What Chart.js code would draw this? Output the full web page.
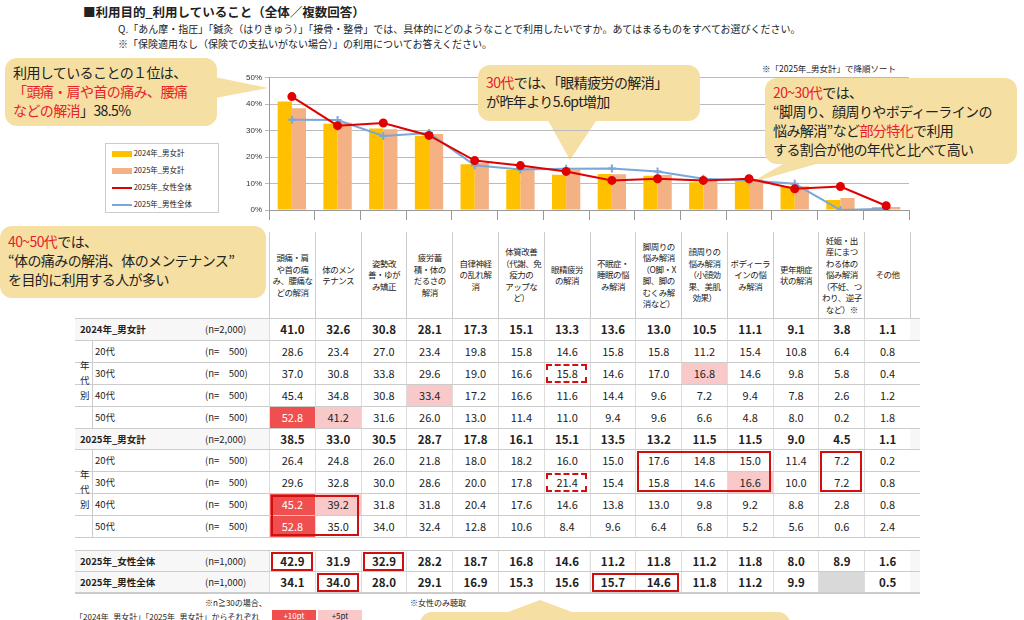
<!DOCTYPE html>
<html><head><meta charset="utf-8">
<script src="https://cdn.jsdelivr.net/npm/chart.js@4.4.1/dist/chart.umd.min.js"></script>
<style>
body{margin:0;width:1024px;height:620px;overflow:hidden;background:#fff;font-family:"Noto Sans CJK JP","Noto Sans",sans-serif;color:#222;position:relative}
.a{position:absolute;white-space:nowrap}
.r{color:#e8202a}
.call{position:absolute;background:#f5dfa3;border-radius:12px;font-size:14px;line-height:19px;padding:6px 8px;box-sizing:border-box;white-space:nowrap;letter-spacing:-0.6px}
.cell{position:absolute;text-align:center;font-size:11px;box-sizing:border-box}
.cat{position:absolute;font-size:8.5px;line-height:11.5px;text-align:center;display:flex;align-items:center;justify-content:center;box-sizing:border-box;border-left:1px solid #ccc;letter-spacing:-0.5px;white-space:nowrap}
#cw{position:absolute;left:235px;top:70px;width:680px;height:150px}
</style></head><body>
<div class="a" style="left:83px;top:2px;font-size:12.5px;font-weight:bold">■利用目的_利用していること（全体／複数回答）</div>
<div class="a" style="left:118px;top:21px;font-size:10px">Q.「あん摩・指圧」「鍼灸（はりきゅう）」「接骨・整骨」では、具体的にどのようなことで利用したいですか。あてはまるものをすべてお選びください。</div>
<div class="a" style="left:118px;top:36px;font-size:10px">※「保険適用なし（保険での支払いがない場合）」の利用についてお答えください。</div>
<div class="a" style="left:762px;top:62px;font-size:8.5px">※「2025年_男女計」で降順ソート</div>
<svg class="a" style="left:0;top:0" width="1024" height="620">
<polygon points="205,75 268,88 205,100" fill="#f5dfa3"/>
<polygon points="545,115 570,160 600,115" fill="#f5dfa3"/>
<polygon points="790,160 750,183 830,160" fill="#f5dfa3"/>
<polygon points="500,615 540,600 580,615" fill="#f5dfa3"/>
</svg>
<div id="cw"><canvas id="c"></canvas></div>
<div class="a" style="left:105px;top:143px;width:112px;height:68px;border:1px solid #ccc;font-size:7.5px;line-height:17px;background:#fff">
<div style="padding-left:6px"><span style="display:inline-block;width:20px;height:6px;background:#ffc000;vertical-align:middle"></span> 2024年_男女計</div>
<div style="padding-left:6px"><span style="display:inline-block;width:20px;height:6px;background:#f4b183;vertical-align:middle"></span> 2025年_男女計</div>
<div style="padding-left:6px"><span style="display:inline-block;width:20px;border-top:2px solid #e00000;vertical-align:middle"></span> 2025年_女性全体</div>
<div style="padding-left:6px"><span style="display:inline-block;width:20px;border-top:2px solid #7aa7d8;vertical-align:middle"></span> 2025年_男性全体</div>
</div>
<div class="call" style="left:5px;top:58px;width:212px;height:68px;padding-top:5px">利用していることの１位は、<br><span class="r">「頭痛・肩や首の痛み、腰痛<br>などの解消</span>」38.5%</div>
<div class="call" style="left:478px;top:65px;width:222px;height:56px;padding-top:8px"><span class="r">30代</span>では、「眼精疲労の解消」<br>が昨年より5.6pt増加</div>
<div class="call" style="left:765px;top:78px;width:252px;height:86px;padding-top:5px"><span class="r">20~30代</span>では、<br>“脚周り、顔周りやボディーラインの<br>悩み解消”など<span class="r">部分特化</span>で利用<br>する割合が他の年代と比べて高い</div>
<div class="call" style="left:0px;top:226px;width:266px;height:72px;padding-top:6px"><span class="r">40~50代</span>では、<br>“体の痛みの解消、体のメンテナンス”<br>を目的に利用する人が多い</div>
<div class="call" style="left:420px;top:612px;width:370px;height:30px"></div>
<div id="tbl"></div>
<div class="a" style="left:205px;top:597px;font-size:8px">※n≧30の場合、</div>
<div class="a" style="left:75px;top:611px;font-size:8px">「2024年_男女計」「2025年_男女計」からそれぞれ</div>
<div class="a" style="left:272px;top:610px;width:44px;height:12px;background:#f04f4f;color:#fff;font-size:8px;text-align:center">+10pt</div>
<div class="a" style="left:318px;top:610px;width:44px;height:12px;background:#f9c9c9;font-size:8px;text-align:center">+5pt</div>
<div class="a" style="left:410px;top:597px;font-size:8px">※女性のみ聴取</div>
<script>
const categories=["頭痛・肩\nや首の痛\nみ、腰痛な\nどの解消","体のメン\nテナンス","姿勢改\n善・ゆが\nみ矯正","疲労蓄\n積・体の\nだるさの\n解消","自律神経\nの乱れ解\n消","体質改善\n（代謝、免\n疫力の\nアップな\nど）","眼精疲労\nの解消","不眠症・\n睡眠の悩\nみ解消","脚周りの\n悩み解消\n（O脚・X\n脚、脚の\nむくみ解\n消など）","顔周りの\n悩み解消\n（小顔効\n果、美肌\n効果）","ボディーラ\nインの悩\nみ解消","更年期症\n状の解消","妊娠・出\n産にまつ\nわる体の\n悩み解消\n（不妊、つ\nわり、逆子\nなど）※","その他"];
const total2024=[41.0,32.6,30.8,28.1,17.3,15.1,13.3,13.6,13.0,10.5,11.1,9.1,3.8,1.1];
const age2024_20=[28.6,23.4,27.0,23.4,19.8,15.8,14.6,15.8,15.8,11.2,15.4,10.8,6.4,0.8];
const age2024_30=[37.0,30.8,33.8,29.6,19.0,16.6,15.8,14.6,17.0,16.8,14.6,9.8,5.8,0.4];
const age2024_40=[45.4,34.8,30.8,33.4,17.2,16.6,11.6,14.4,9.6,7.2,9.4,7.8,2.6,1.2];
const age2024_50=[52.8,41.2,31.6,26.0,13.0,11.4,11.0,9.4,9.6,6.6,4.8,8.0,0.2,1.8];
const total2025=[38.5,33.0,30.5,28.7,17.8,16.1,15.1,13.5,13.2,11.5,11.5,9.0,4.5,1.1];
const age2025_20=[26.4,24.8,26.0,21.8,18.0,18.2,16.0,15.0,17.6,14.8,15.0,11.4,7.2,0.2];
const age2025_30=[29.6,32.8,30.0,28.6,20.0,17.8,21.4,15.4,15.8,14.6,16.6,10.0,7.2,0.8];
const age2025_40=[45.2,39.2,31.8,31.8,20.4,17.6,14.6,13.8,13.0,9.8,9.2,8.8,2.8,0.8];
const age2025_50=[52.8,35.0,34.0,32.4,12.8,10.6,8.4,9.6,6.4,6.8,5.2,5.6,0.6,2.4];
const female2025=[42.9,31.9,32.9,28.2,18.7,16.8,14.6,11.2,11.8,11.2,11.8,8.0,8.9,1.6];
const male2025=[34.1,34.0,28.0,29.1,16.9,15.3,15.6,15.7,14.6,11.8,11.2,9.9,null,0.5];
const yTicks=["0%","10%","20%","30%","40%","50%"];

new Chart(document.getElementById('c'),{
 data:{labels:categories.map((c,i)=>i),datasets:[
  {type:'line',data:female2025,borderColor:'#e00000',backgroundColor:'#e00000',borderWidth:2,pointRadius:3.5,pointStyle:'circle',order:0},
  {type:'line',data:male2025.map(v=>v??0),borderColor:'#7aa7d8',backgroundColor:'#7aa7d8',borderWidth:2,pointRadius:4,pointStyle:'cross',order:1},
  {type:'bar',data:total2024,backgroundColor:'#ffc000',categoryPercentage:0.62,barPercentage:1,order:2},
  {type:'bar',data:total2025,backgroundColor:'#f4b183',categoryPercentage:0.62,barPercentage:1,order:3}]},
 options:{responsive:true,maintainAspectRatio:false,animation:false,layout:{padding:{top:6,right:5,bottom:0}},
  plugins:{legend:{display:false},tooltip:{enabled:false}},
  scales:{x:{ticks:{display:false},grid:{display:true,offset:true,color:'#999',drawOnChartArea:false,tickLength:10},border:{color:'#999'}},
   y:{min:0,max:50,afterFit:s=>{s.width=34},ticks:{stepSize:10,font:{size:8},color:'#333',callback:(v,i)=>yTicks[i]},grid:{color:'#bbb',tickLength:4,borderDash:[2,2]},border:{color:'#999'}}}}
});

const T=document.getElementById('tbl');
const x0=269,cw=641/14;
function el(cls,style,html){const d=document.createElement('div');d.className=cls;d.style.cssText=style;d.innerHTML=html;T.appendChild(d);return d;}
categories.forEach((c,i)=>el('cat',`left:${x0+i*cw}px;top:232px;width:${cw}px;height:86px`,c.replace(/\n/g,'<br>')));
el('a',`left:${x0+14*cw}px;top:232px;width:1px;height:86px;background:#ccc`,'');
const rows=[
 {l:'2024年_男女計',n:'(n=2,000)',d:total2024,y:318,b:1},
 {l:'20代',n:'(n=　500)',d:age2024_20,y:340},{l:'30代',n:'(n=　500)',d:age2024_30,y:362},{l:'40代',n:'(n=　500)',d:age2024_40,y:384},{l:'50代',n:'(n=　500)',d:age2024_50,y:406},
 {l:'2025年_男女計',n:'(n=2,000)',d:total2025,y:428,b:1},
 {l:'20代',n:'(n=　500)',d:age2025_20,y:449},{l:'30代',n:'(n=　500)',d:age2025_30,y:471},{l:'40代',n:'(n=　500)',d:age2025_40,y:493},{l:'50代',n:'(n=　500)',d:age2025_50,y:515},
 {l:'2025年_女性全体',n:'(n=1,000)',d:female2025,y:550,b:1},
 {l:'2025年_男性全体',n:'(n=1,000)',d:male2025,y:571,b:1}];
const strong={"4_0":1,"9_0":1,"8_0":1},light={"2_9":1,"3_3":1,"4_1":1,"8_1":1,"7_10":1};
rows.forEach((r,ri)=>{
 const h=(ri==5)?21:22;
 el('a',`left:75px;top:${r.y}px;width:845px;height:${h}px;border-top:1px solid #ccc;${r.b?'background:#f7f7f7;':''}`,'');
 el('a',`left:${r.b?80:95}px;top:${r.y+4}px;font-size:9.5px;${r.b?'font-weight:bold':''}`,r.l);
 el('a',`left:205px;top:${r.y+4}px;font-size:9.5px`,r.n);
 r.d.forEach((v,i)=>{
  const k=ri+'_'+i;let bg='#fff',col='#222';
  if(strong[k]){bg='#f04f4f';col='#fff'}else if(light[k]){bg='#f9c9c9'}
  if(v===null)bg='#d9d9d9';
  el('cell',`left:${x0+i*cw}px;top:${r.y+1}px;width:${cw}px;height:${h-1}px;line-height:${h-1}px;background:${bg};color:${col};border-left:1px solid #ddd;${r.b?'font-weight:bold;font-size:11.5px':''}`,v===null?'':v.toFixed(1));
 });
});
el('a',`left:75px;top:537px;width:845px;height:1px;background:#ccc`,'');
el('a',`left:75px;top:592px;width:845px;height:2px;background:#ccc`,'');
el('a',`left:80px;top:358px;font-size:9.5px;line-height:15px;white-space:normal;width:10px`,'年<br>代<br>別');
el('a',`left:80px;top:467px;font-size:9.5px;line-height:15px;white-space:normal;width:10px`,'年<br>代<br>別');
el('a',`left:92px;top:340px;width:1px;height:88px;background:#ccc`,'');
el('a',`left:92px;top:449px;width:1px;height:88px;background:#ccc`,'');
const boxes=[[6,2,1,1,1],[6,7,1,1,1],[8,6,3,2,0],[12,6,1,2,0],[0,8,2,2,0],[0,10,1,1,0],[2,10,1,1,0],[1,11,1,1,0],[7,11,2,1,0]];
boxes.forEach(b=>{const r=rows[b[1]],r2=rows[b[1]+b[3]-1];
 el('a',`left:${x0+b[0]*cw+2}px;top:${r.y+2}px;width:${b[2]*cw-4}px;height:${r2.y+21-r.y-2}px;border:2px ${b[4]?'dashed':'solid'} #d01010;box-sizing:border-box`,'');});
</script></body></html>
